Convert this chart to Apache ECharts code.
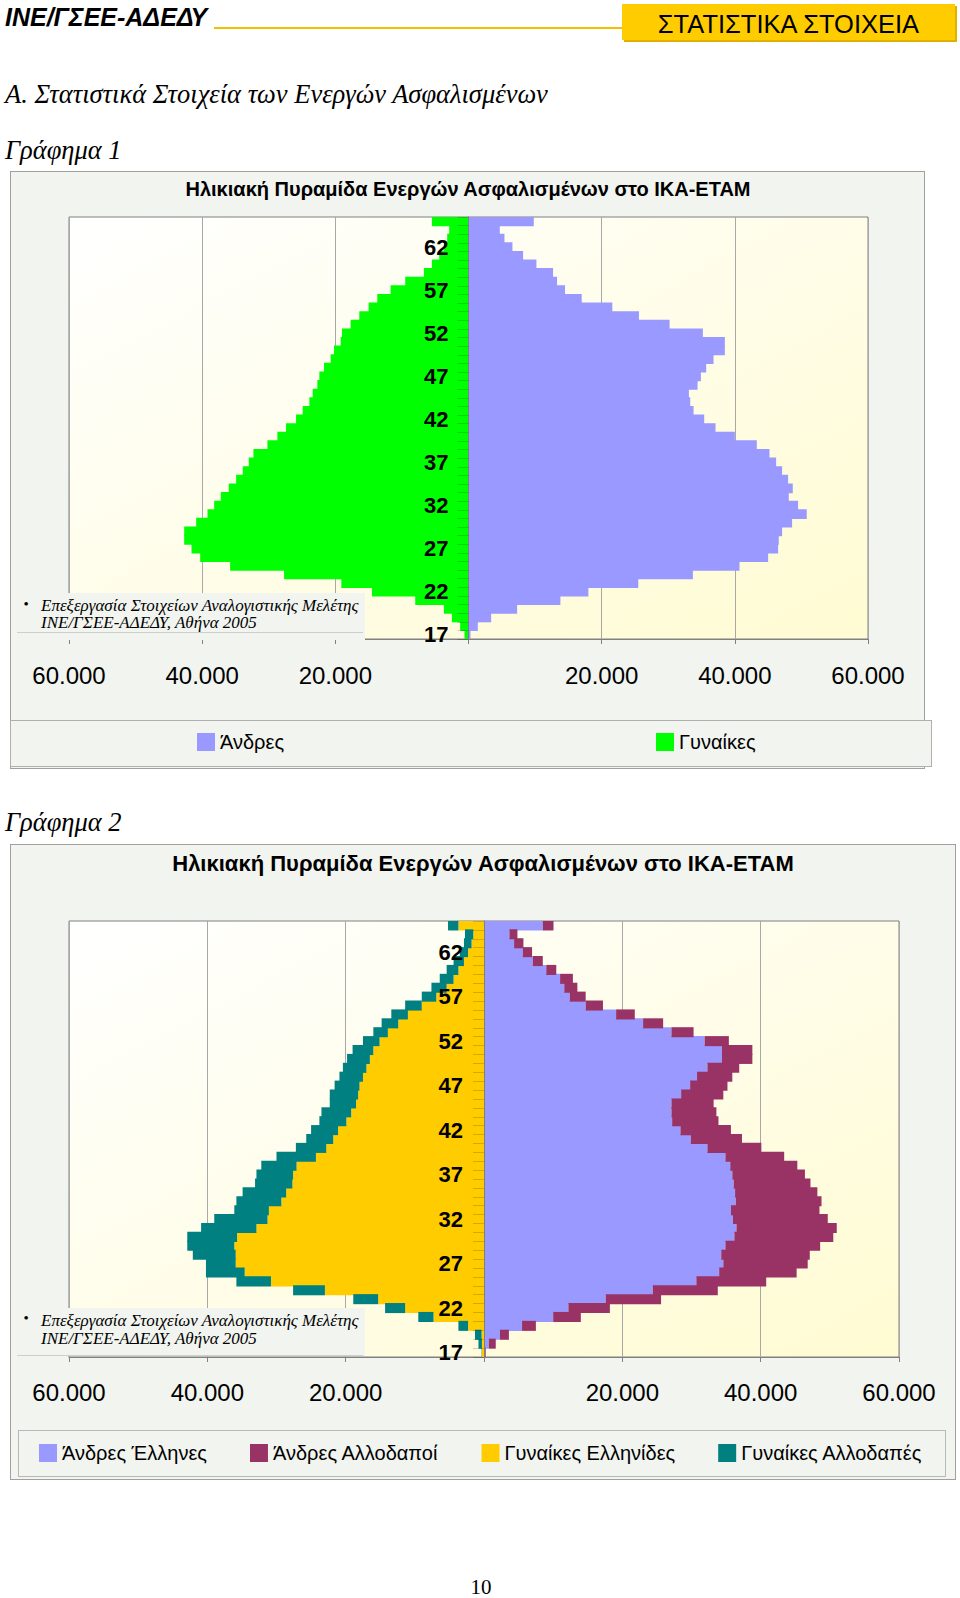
<!DOCTYPE html>
<html>
<head>
<meta charset="utf-8">
<script src="https://cdn.jsdelivr.net/npm/echarts@6/dist/echarts.min.js"></script>
<style>
  html, body { margin: 0; padding: 0; background: #fff; }
  body { width: 960px; height: 1598px; position: relative; overflow: hidden; }
  .abs { position: absolute; white-space: nowrap; }
  .box { position: absolute; box-sizing: border-box; }
  #page { position: absolute; left: 0; top: 0; width: 960px; height: 1598px; }
</style>
</head>
<body>
<!-- page header -->
<div class="abs" style="left:5px;top:5px;font:italic bold 25px 'Liberation Sans',Arial,sans-serif;line-height:25px;color:#000">ΙΝΕ/ΓΣΕΕ-ΑΔΕΔΥ</div>
<div class="box" style="left:214px;top:27px;width:408px;height:2px;background:#EFC100"></div>
<div class="box" style="left:622px;top:4px;width:333px;height:36px;background:#FFCC00;box-shadow:2px 2px 0 #E0B000;font:25.5px 'Liberation Sans',Arial,sans-serif;line-height:41px;text-align:center;color:#000">ΣΤΑΤΙΣΤΙΚΑ ΣΤΟΙΧΕΙΑ</div>
<div class="abs" style="left:5px;top:81px;font:italic 26.5px 'Liberation Serif','Times New Roman',serif;line-height:26px;color:#000">Α. Στατιστικά Στοιχεία των Ενεργών Ασφαλισμένων</div>
<div class="abs" style="left:5px;top:137px;font:italic 26.5px 'Liberation Serif','Times New Roman',serif;line-height:26px;color:#000">Γράφημα 1</div>
<div class="abs" style="left:5px;top:809px;font:italic 26.5px 'Liberation Serif','Times New Roman',serif;line-height:26px;color:#000">Γράφημα 2</div>
<div class="abs" style="left:0;width:962px;text-align:center;top:1577px;font:21px 'Liberation Serif','Times New Roman',serif;line-height:21px;color:#000">10</div>

<!-- chart frames -->
<div class="box" style="left:10px;top:171px;width:915px;height:598px;background:#F1F4EF;border:1px solid #A0A0A0"></div>
<div class="box" style="left:10px;top:720px;width:922px;height:47px;border:1px solid #B0B0B0;background:#F1F4EF"></div>
<div class="box" style="left:10px;top:844px;width:946px;height:636px;background:#F1F4EF;border:1px solid #A0A0A0"></div>
<div class="box" style="left:18px;top:1430px;width:928px;height:47px;border:1px solid #B8B8B8"></div>

<div id="page"></div>

<script>
// ---------------- data (thousands of insured persons) ----------------
const AGES = ['17','18','19','20','21','22','23','24','25','26',
              '27','28','29','30','31','32','33','34','35','36',
              '37','38','39','40','41','42','43','44','45','46',
              '47','48','49','50','51','52','53','54','55','56',
              '57','58','59','60','61','62','63','64','65'];

// Chart 1
const MEN_1 = [0.3,1.4,3.4,7.3,13.8,18.0,25.5,33.7,40.7,45.0,
               46.5,46.6,47.1,48.6,50.8,49.5,48.1,48.7,48.0,47.1,
               46.2,45.2,43.3,40.0,37.1,35.4,33.8,33.3,33.1,34.4,
               34.9,35.7,36.8,38.5,38.5,35.2,30.2,25.6,21.6,17.0,
               14.5,13.3,12.7,10.2,8.2,6.6,5.4,4.7,9.8];
const WOMEN_1 = [0.6,1.25,2.5,3.7,8.0,14.5,19.1,27.7,35.8,40.3,
                 41.6,42.7,42.7,40.9,39.2,38.2,37.2,36.0,34.9,33.9,
                 33.0,32.3,30.2,28.7,27.4,25.9,24.9,23.9,23.4,22.7,
                 22.4,21.7,20.7,20.2,19.2,19.0,17.7,16.4,15.0,13.7,
                 11.7,9.5,6.7,5.5,4.4,3.7,3.2,2.9,5.5];

// Chart 2
const MEN_GR = [0.15,0.7,2.3,5.5,10.0,12.2,17.6,24.4,30.7,34.0,
                34.6,34.3,34.9,36.2,36.5,36.0,35.7,36.4,36.3,36.1,
                35.9,35.6,34.9,32.3,29.9,28.4,27.2,27.1,27.1,28.5,
                29.8,30.8,32.3,34.4,34.4,31.9,27.1,23.0,19.1,14.7,
                12.4,11.6,11.0,9.0,7.05,5.6,4.35,3.67,8.5];
const MEN_FOR = [0.1,1.0,1.3,2.0,4.0,6.0,8.0,9.4,10.1,11.2,
                 12.2,12.8,13.7,14.3,14.5,13.7,12.8,12.4,11.9,11.1,
                 10.5,9.7,8.5,7.8,7.4,7.3,6.7,6.5,6.1,6.1,
                 5.4,5.1,4.6,4.4,4.4,3.5,3.2,2.9,2.7,2.5,
                 2.3,1.9,1.85,1.45,1.45,1.35,1.35,1.16,1.55];
const WOMEN_GR = [0.3,0.3,0.35,2.3,7.3,11.4,15.3,23.0,30.8,34.6,
                  35.9,35.9,36.1,35.7,32.9,31.3,31.1,29.3,28.6,27.7,
                  27.6,27.1,24.3,22.8,21.8,21.1,19.9,19.2,18.5,18.2,
                  18.0,17.5,17.0,16.5,16.0,15.1,13.9,12.4,11.0,9.0,
                  6.9,5.4,4.4,3.7,2.9,2.3,1.8,1.55,3.7];
const WOMEN_FOR = [0.05,0.5,0.95,1.4,2.2,2.9,3.6,4.6,5.0,5.6,
                   4.3,6.2,6.8,7.2,8.0,7.7,5.0,6.5,6.3,5.4,
                   5.3,5.1,5.7,4.4,3.9,3.9,3.9,4.3,3.8,4.1,
                   3.6,3.4,3.4,3.3,3.0,2.4,2.1,2.4,2.4,2.4,
                   2.1,2.2,2.0,1.7,1.5,1.2,1.1,1.2,1.5];

const X_MIN = -60000, X_MAX = 60000, X_STEP = 20000;
const TITLE = 'Ηλικιακή Πυραμίδα Ενεργών Ασφαλισμένων στο ΙΚΑ-ΕΤΑΜ';
const NOTE_1 = 'Επεξεργασία Στοιχείων Αναλογιστικής Μελέτης';
const NOTE_2 = 'ΙΝΕ/ΓΣΕΕ-ΑΔΕΔΥ, Αθήνα 2005';
const NAMES_1 = ['Άνδρες', 'Γυναίκες'];
const NAMES_2 = ['Άνδρες Έλληνες', 'Άνδρες Αλλοδαποί', 'Γυναίκες Ελληνίδες', 'Γυναίκες Αλλοδαπές'];

// ---------------- styling ----------------
const SANS = '"Liberation Sans", Arial, sans-serif';
const SERIF = '"Liberation Serif", "Times New Roman", serif';
const C_MEN = '#9999FF', C_WOMEN = '#00FF00';
const C_MEN_FOR = '#993366', C_WOMEN_GR = '#FFCC00', C_WOMEN_FOR = '#008080';

const plotBg = { type: 'linear', x: 0, y: 0, x2: 1, y2: 1,
  colorStops: [{ offset: 0, color: '#FFFFFF' }, { offset: 1, color: '#FFFBD2' }] };

const GRID_1 = { left: 69, top: 217, width: 799, height: 422 };
const GRID_2 = { left: 69, top: 921, width: 830, height: 436 };

function fmt(v) {
  if (v === 0) return '';
  return (Math.abs(v) / 1000) + '.000';
}
const toPos = arr => arr.map(v => Math.round(v * 1000));
const toNeg = arr => arr.map(v => -Math.round(v * 1000));

function xAxisCfg(gi, margin) {
  return {
    gridIndex: gi, type: 'value', min: X_MIN, max: X_MAX, interval: X_STEP,
    axisLine: { show: true, onZero: false, lineStyle: { color: '#808080', width: 1 } },
    axisTick: { show: true, length: 5, lineStyle: { color: '#808080' } },
    axisLabel: { formatter: fmt, fontSize: 24, fontFamily: SANS, color: '#000', margin: margin },
    splitLine: { show: true, lineStyle: { color: '#A8A8A8', width: 1 } }
  };
}
// category axis moved to the value-axis zero (centre of the plot) via offset
function yAxisCfg(gi, g, margin) {
  return {
    gridIndex: gi, type: 'category', data: AGES, z: 10, position: 'left',
    offset: -(g.width / 2),
    axisLine: { show: true, onZero: false, lineStyle: { color: '#808080', width: 1 } },
    axisTick: { show: true, interval: 0, length: 11, lineStyle: { color: 'rgba(0,0,0,0.17)' } },
    axisLabel: { interval: 4, fontSize: 22, fontWeight: 'bold', fontFamily: SANS, color: '#000', margin: margin },
    splitLine: { show: false }
  };
}
function bar(name, gi, stack, data, color) {
  return {
    name: name, type: 'bar', xAxisIndex: gi, yAxisIndex: gi, stack: stack,
    data: data, barWidth: '113%',
    itemStyle: { color: color, borderWidth: 0 },
    emphasis: { disabled: true }, silent: true
  };
}
function noteGroup(y0, h, l1, l2, by, ly) {
  return {
    type: 'group', z: 100,
    children: [
      { type: 'rect', z: 100, shape: { x: 16, y: y0, width: 349, height: h },
        style: { fill: '#F1F4EF', stroke: null } },
      { type: 'line', z: 101, shape: { x1: 17, y1: ly, x2: 363, y2: ly },
        style: { stroke: '#CDCFCB', lineWidth: 1 } },
      { type: 'text', z: 101, x: 26, y: by,
        style: { text: '•', fontSize: 15, fontFamily: SERIF, fill: '#000', align: 'center', verticalAlign: 'middle' } },
      { type: 'text', z: 101, x: 41, y: l1,
        style: { text: NOTE_1, fontSize: 17, fontStyle: 'italic', fontFamily: SERIF, fill: '#000', verticalAlign: 'middle' } },
      { type: 'text', z: 101, x: 41, y: l2,
        style: { text: NOTE_2, fontSize: 17, fontStyle: 'italic', fontFamily: SERIF, fill: '#000', verticalAlign: 'middle' } }
    ]
  };
}
const legendText = { fontSize: 20, fontFamily: SANS, color: '#000' };

const chart = echarts.init(document.getElementById('page'), null,
  { renderer: 'svg', width: 960, height: 1598 });

chart.setOption({
  backgroundColor: 'transparent',
  animation: false,
  tooltip: { show: false },
  grid: [
    Object.assign({ show: true, backgroundColor: plotBg, borderColor: '#808080', borderWidth: 1,
      outerBoundsMode: 'none', containLabel: false }, GRID_1),
    Object.assign({ show: true, backgroundColor: plotBg, borderColor: '#808080', borderWidth: 1,
      outerBoundsMode: 'none', containLabel: false }, GRID_2)
  ],
  xAxis: [xAxisCfg(0, 24), xAxisCfg(1, 23)],
  yAxis: [yAxisCfg(0, GRID_1, 20), yAxisCfg(1, GRID_2, 21)],
  legend: [
    { data: [NAMES_1[0]], left: 197, top: 732, orient: 'horizontal', padding: 0,
      itemWidth: 18, itemHeight: 18, icon: 'rect', textStyle: legendText, selectedMode: false },
    { data: [NAMES_1[1]], left: 656, top: 732, orient: 'horizontal', padding: 0,
      itemWidth: 18, itemHeight: 18, icon: 'rect', textStyle: legendText, selectedMode: false },
    { data: NAMES_2, left: 39, top: 1443, orient: 'horizontal', padding: 0, itemGap: 43,
      itemWidth: 18, itemHeight: 18, icon: 'rect', textStyle: legendText, selectedMode: false }
  ],
  graphic: [
    { type: 'text', x: 468, y: 189, z: 20,
      style: { text: TITLE, fontSize: 20, fontWeight: 'bold', fontFamily: SANS, fill: '#000',
               align: 'center', verticalAlign: 'middle' } },
    { type: 'text', x: 483, y: 863, z: 20,
      style: { text: TITLE, fontSize: 22, fontWeight: 'bold', fontFamily: SANS, fill: '#000',
               align: 'center', verticalAlign: 'middle' } },
    noteGroup(593, 47, 605, 622, 604, 632.5),
    noteGroup(1308, 48, 1320, 1338, 1318, 1355.5)
  ],
  series: [
    bar(NAMES_1[1], 0, 's1', toNeg(WOMEN_1), C_WOMEN),
    bar(NAMES_1[0], 0, 's1', toPos(MEN_1), C_MEN),
    bar(NAMES_2[2], 1, 's2', toNeg(WOMEN_GR), C_WOMEN_GR),
    bar(NAMES_2[3], 1, 's2', toNeg(WOMEN_FOR), C_WOMEN_FOR),
    bar(NAMES_2[0], 1, 's2', toPos(MEN_GR), C_MEN),
    bar(NAMES_2[1], 1, 's2', toPos(MEN_FOR), C_MEN_FOR)
  ]
});
</script>
</body>
</html>
